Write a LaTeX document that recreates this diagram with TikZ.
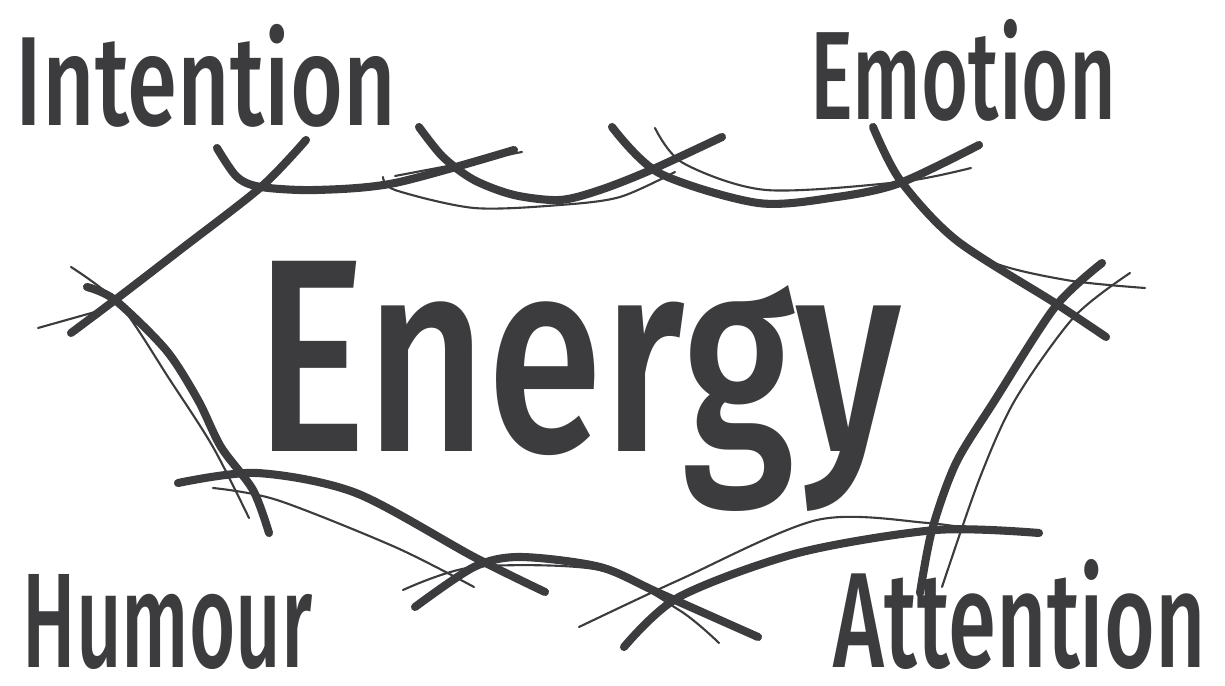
\documentclass[tikz,border=0pt]{standalone}
\usepackage{fontspec}
\setsansfont{Fira Sans}[UprightFont={* Medium}]
\usepackage{graphicx}
\usepackage{xcolor}
\definecolor{marker}{HTML}{3C3C3E}
\begin{document}
\begin{tikzpicture}[x=0.01cm,y=-0.01cm,
 every node/.style={inner sep=0pt,text=marker,font=\sffamily},
 heavy/.style={draw=marker,line width=2.3pt,line cap=round,line join=round},
 fine/.style={draw=marker,line width=0.6pt,line cap=round,line join=round},
 word/.style={anchor=south west}]
\useasboundingbox (0,0) rectangle (1225,686);
% corner labels
\node[word] (intention) at (15,128) {\resizebox*{3.8cm}{1.03cm}{Intention}};
\node[word] (emotion) at (810,122) {\resizebox*{3.05cm}{1.02cm}{Emotion}};
\node[word] (humour) at (22,670) {\resizebox*{2.9cm}{0.95cm}{Humour}};
\node[word] (attention) at (833,670) {\resizebox*{3.72cm}{1.1cm}{Attention}};
% centre word
\node[word] (energy) at (255,512) {\resizebox*{6.45cm}{2.5cm}{Energy}};
% top edge
\draw[heavy] plot[smooth] coordinates {(217,148) (237,177) (261,187) (316,190) (395,183) (514,150)};
\draw[fine] (395,176) -- (522,152);
\draw[heavy] plot[smooth] coordinates {(419,127) (443,157) (474,180) (514,195) (560,200) (600,190) (651,170) (722,137)};
\draw[fine] plot[smooth] coordinates {(383,177) (395,190) (474,208) (560,205) (620,197) (675,172)};
\draw[heavy] plot[smooth] coordinates {(612,127) (659,173) (758,203) (837,197) (900,183) (979,145)};
\draw[fine] plot[smooth] coordinates {(655,128) (683,163) (766,190) (900,182) (971,168)};
% left corner
\draw[heavy] plot[smooth] coordinates {(306,140) (261,187) (180,250) (115,300) (71,333)};
\draw[fine] (38,328) -- (95,312);
\draw[heavy] plot[smooth] coordinates {(87,287) (115,300) (166,350) (198,400) (221,447) (253,490) (269,533)};
\draw[fine] plot[smooth] coordinates {(71,267) (120,305) (170,380) (213,447) (249,518)};
% right corner
\draw[heavy] plot[smooth] coordinates {(873,127) (900,180) (956,240) (1055,303) (1106,337)};
\draw[fine] plot[smooth] coordinates {(930,215) (987,260) (1066,280) (1145,288)};
\draw[heavy] plot[smooth] coordinates {(1102,263) (1055,307) (995,400) (956,463) (932,530) (920,593)};
\draw[fine] plot[smooth] coordinates {(1130,273) (1074,317) (1015,400) (979,480) (942,587)};
% bottom edge
\draw[heavy] plot[smooth] coordinates {(178,483) (257,473) (356,493) (474,557) (545,592)};
\draw[fine] plot[smooth] coordinates {(213,488) (277,500) (395,547) (474,587)};
\draw[heavy] plot[smooth] coordinates {(415,607) (474,567) (520,557) (600,567) (659,593) (758,637)};
\draw[fine] plot[smooth] coordinates {(403,590) (474,567) (600,570) (679,610) (719,643)};
\draw[heavy] plot[smooth] coordinates {(624,647) (679,597) (798,553) (936,530) (1039,533)};
\draw[fine] plot[smooth] coordinates {(579,627) (679,580) (817,520) (928,523) (995,533)};
\end{tikzpicture}
\end{document}
